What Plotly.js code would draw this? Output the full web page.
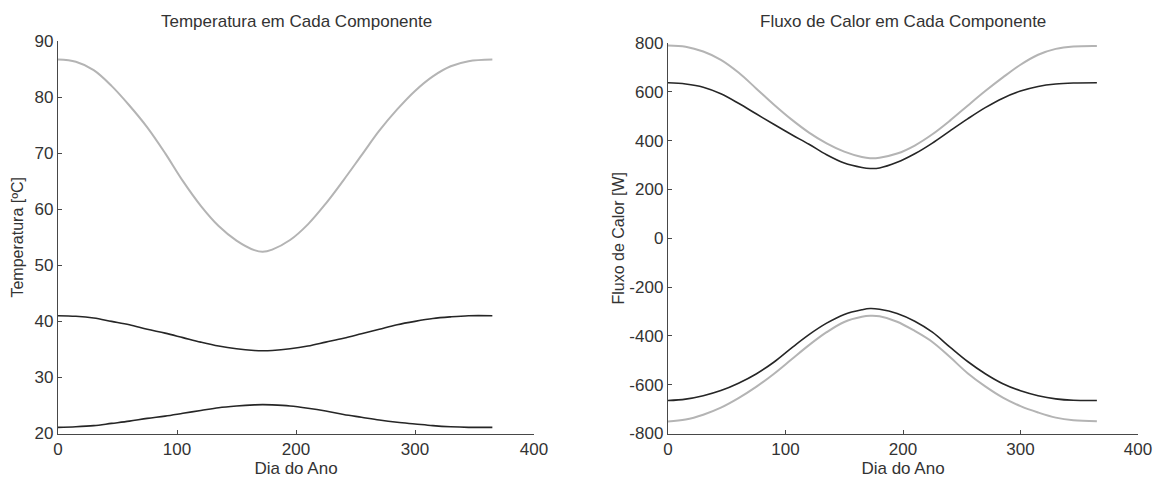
<!DOCTYPE html>
<html>
<head>
<meta charset="utf-8">
<script src="https://cdn.plot.ly/plotly-3.0.1.min.js"></script>
<style>html,body{margin:0;padding:0;background:#fff;}#chart{width:1157px;height:482px;}</style>
</head>
<body>
<div id="chart"></div>
<script>
// Day of year
const days = [0, 15, 30, 45, 60, 75, 90, 105, 120, 135, 150, 165, 172, 180, 195, 210, 225, 240, 255, 270, 285, 300, 315, 330, 345, 365];

// Left: Temperatura em cada componente [ºC]
const tempHigh = [86.7, 86.3, 84.8, 82.0, 78.5, 74.6, 70.0, 65.0, 60.6, 57.0, 54.4, 52.7, 52.4, 52.8, 54.5, 57.3, 61.0, 65.2, 69.6, 74.0, 77.8, 81.1, 83.7, 85.5, 86.4, 86.7];
const tempMid  = [41.0, 40.9, 40.6, 40.0, 39.4, 38.6, 37.9, 37.1, 36.3, 35.6, 35.1, 34.8, 34.75, 34.8, 35.1, 35.6, 36.3, 37.0, 37.8, 38.6, 39.4, 40.0, 40.5, 40.8, 41.0, 41.0];
const tempLow  = [21.1, 21.2, 21.4, 21.8, 22.2, 22.7, 23.1, 23.6, 24.1, 24.6, 24.9, 25.1, 25.15, 25.1, 24.9, 24.5, 24.0, 23.4, 22.9, 22.4, 22.0, 21.7, 21.4, 21.2, 21.1, 21.1];

// Right: Fluxo de calor em cada componente [W]
const fluxPosLight = [790, 785, 765, 731, 679, 614, 548, 487, 433, 389, 355, 333, 328, 330, 347, 380, 426, 482, 543, 603, 659, 711, 752, 776, 786, 788];
const fluxPosDark  = [637, 632, 619, 592, 553, 510, 467, 425, 385, 342, 308, 290, 286, 288, 311, 346, 390, 440, 489, 535, 574, 603, 622, 632, 636, 637];
const fluxNegDark  = [-665, -659, -645, -624, -594, -556, -508, -450, -395, -348, -312, -293, -288, -291, -308, -340, -385, -446, -505, -555, -596, -625, -645, -658, -664, -665];
const fluxNegLight = [-751, -743, -723, -694, -655, -609, -556, -497, -438, -385, -343, -322, -318, -320, -342, -380, -425, -487, -553, -607, -653, -688, -714, -735, -746, -750];

const xTicks = [0, 100, 200, 300, 400];
const tempTicks = [20, 30, 40, 50, 60, 70, 80, 90];
const fluxTicks = [-800, -600, -400, -200, 0, 200, 400, 600, 800];

const LIGHT = '#b4b4b4', DARK = '#262626', TXT = '#333333', AX = '#484848';
const FONT = 'Liberation Sans, Arial, sans-serif';

function tr(x, y, color, w, xa, ya) {
  return {x: x, y: y, type: 'scatter', mode: 'lines', xaxis: xa, yaxis: ya,
          line: {color: color, width: w, shape: 'spline', smoothing: 1}, hoverinfo: 'skip'};
}

const data = [
  tr(days, tempHigh, LIGHT, 2, 'x', 'y'),
  tr(days, tempMid, DARK, 1.6, 'x', 'y'),
  tr(days, tempLow, DARK, 1.6, 'x', 'y'),
  tr(days, fluxPosLight, LIGHT, 2, 'x2', 'y2'),
  tr(days, fluxPosDark, DARK, 1.6, 'x2', 'y2'),
  tr(days, fluxNegDark, DARK, 1.6, 'x2', 'y2'),
  tr(days, fluxNegLight, LIGHT, 2, 'x2', 'y2')
];

const W = 1157, H = 482;

function xax(dom, anchor) {
  return {domain: dom, anchor: anchor, range: [0, 400], tickvals: xTicks, ticktext: xTicks.map(String),
    ticks: 'inside', ticklen: 4, tickcolor: AX, showline: true, linecolor: AX, linewidth: 1.2,
    showgrid: false, zeroline: false, mirror: false, fixedrange: true,
    tickfont: {family: FONT, size: 17, color: TXT},
    title: {text: 'Dia do Ano', font: {family: FONT, size: 17, color: TXT}, standoff: 2}};
}
function yax(dom, anchor, range, ticks, title, standoff) {
  return {domain: dom, anchor: anchor, range: range, tickvals: ticks, ticktext: ticks.map(String),
    ticks: 'inside', ticklen: 4, tickcolor: AX, showline: true, linecolor: AX, linewidth: 1.2,
    showgrid: false, zeroline: false, mirror: false, fixedrange: true,
    tickfont: {family: FONT, size: 17, color: TXT},
    title: {text: title, font: {family: FONT, size: 16, color: TXT}, standoff: standoff}};
}

const layout = {
  width: W, height: H,
  margin: {l: 0, r: 0, t: 0, b: 0},
  paper_bgcolor: '#fff', plot_bgcolor: '#fff',
  showlegend: false,
  xaxis: xax([58 / W, 534 / W], 'y'),
  yaxis: yax([(H - 433.5) / H, (H - 41) / H], 'x', [20, 90], tempTicks, 'Temperatura [ºC]', 6),
  xaxis2: xax([668 / W, 1138 / W], 'y2'),
  yaxis2: yax([(H - 433.5) / H, (H - 43) / H], 'x2', [-800, 800], fluxTicks, 'Fluxo de Calor [W]', 0),
  annotations: [
    {text: 'Temperatura em Cada Componente', xref: 'paper', yref: 'paper', x: 296 / W, y: (H - 22) / H,
     xanchor: 'center', yanchor: 'middle', showarrow: false, font: {family: FONT, size: 17, color: TXT}},
    {text: 'Fluxo de Calor em Cada Componente', xref: 'paper', yref: 'paper', x: 903 / W, y: (H - 22) / H,
     xanchor: 'center', yanchor: 'middle', showarrow: false, font: {family: FONT, size: 17, color: TXT}}
  ]
};

Plotly.newPlot('chart', data, layout, {displayModeBar: false, staticPlot: true});
</script>
</body>
</html>
